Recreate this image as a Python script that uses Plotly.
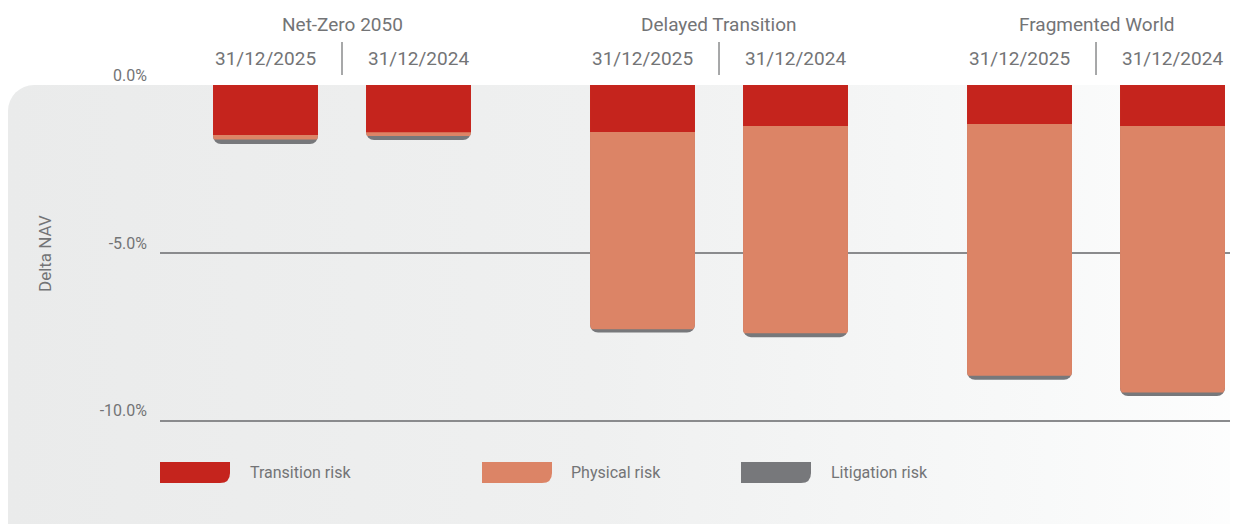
import base64
import plotly.graph_objects as go

# ---------------- data ----------------
scenarios = ["Net-Zero 2050", "Delayed Transition", "Fragmented World"]
dates = ["31/12/2025", "31/12/2024"]
series_names = ["Transition risk", "Physical risk", "Litigation risk"]
# values in % of NAV (negative), order: NZ 2025, NZ 2024, DT 2025, DT 2024, FW 2025, FW 2024
transition = [-1.49, -1.41, -1.40, -1.22, -1.16, -1.22]
physical = [-0.13, -0.11, -5.87, -6.17, -7.50, -7.94]
litigation = [-0.14, -0.12, -0.10, -0.12, -0.12, -0.10]
y_ticks = [0, -5, -10]
y_ticklabels = ["0.0%", "-5.0%", "-10.0%"]

colors = {"Transition risk": "#c5241d", "Physical risk": "#dc8466", "Litigation risk": "#77787b"}
TXT = "#737476"
FONT = "Roboto, Liberation Sans, sans-serif"

# the page body adds an 8px offset; layout is expressed in window pixels
OFF = 8
W, H = 1230, 516
ML, MR, MT, MB = 152, 0, 77, 36
PW, PH = W - ML - MR, H - MT - MB

def px2x(px):
    return (px - OFF - ML) / PW

def py2y(py):
    return (H - MB - (py - OFF)) / PH

# bar positions: two dates per scenario, larger gap between scenarios
GROUP_STEP = 2.464
positions = []
labels = []
for gi, sc in enumerate(scenarios):
    for di, d in enumerate(dates):
        positions.append(gi * GROUP_STEP + di)
        labels.append(d)
group_centers = [gi * GROUP_STEP + 0.5 for gi in range(len(scenarios))]

# cumulative layers (drawn overlaid, deepest first)
cum_tp = [t + p for t, p in zip(transition, physical)]
cum_all = [t + p + l for t, p, l in zip(transition, physical, litigation)]

fig = go.Figure()
for name, yvals, seg in [("Litigation risk", cum_all, litigation),
                         ("Physical risk", cum_tp, physical),
                         ("Transition risk", transition, transition)]:
    fig.add_trace(go.Bar(
        x=positions, y=yvals, name=name, width=0.686,
        marker=dict(color=colors[name], line=dict(width=0), cornerradius=8),
        customdata=[[s, l] for s, l in zip(seg, labels)],
        hovertemplate="%{customdata[1]}<br>" + name + ": %{customdata[0]:.2f}%<extra></extra>",
        showlegend=False,
    ))

# background gradient (rounded top-left) via inline SVG
svg = ('<svg xmlns="http://www.w3.org/2000/svg" width="1240" height="450" viewBox="0 0 1240 450" preserveAspectRatio="none">'
       '<defs><linearGradient id="g" x1="0" y1="0" x2="1" y2="0">'
       '<stop offset="0" stop-color="#eaebeb"/><stop offset="0.45" stop-color="#eff0f0"/>'
       '<stop offset="0.8" stop-color="#f8f9f9"/><stop offset="1" stop-color="#ffffff"/></linearGradient></defs>'
       '<rect x="0" y="0" width="1300" height="500" rx="26" ry="26" fill="url(#g)"/></svg>')
src = "data:image/svg+xml;base64," + base64.b64encode(svg.encode()).decode()
fig.add_layout_image(dict(source=src, xref="paper", yref="paper",
                          x=px2x(8), y=py2y(85), sizex=px2x(1248) - px2x(8), sizey=py2y(85) - py2y(535),
                          xanchor="left", yanchor="top", sizing="stretch", layer="below"))

annotations = []
shapes = []
for sc, gc in zip(scenarios, group_centers):
    annotations.append(dict(x=gc, xref="x", y=py2y(25), yref="paper", text=sc, showarrow=False,
                            font=dict(family=FONT, size=19, color=TXT),
                            xanchor="center", yanchor="middle"))
    shapes.append(dict(type="line", xref="x", yref="paper", x0=gc, x1=gc, y0=py2y(75), y1=py2y(42),
                       line=dict(color="#8a8b8d", width=1.5)))

# y-axis title
annotations.append(dict(x=px2x(45), xref="paper", y=py2y(254), yref="paper", text="Delta NAV", textangle=-90,
                        showarrow=False, font=dict(family=FONT, size=17, color=TXT),
                        xanchor="center", yanchor="middle"))

# custom legend
legend_items = [("Transition risk", 160, 248), ("Physical risk", 482, 569), ("Litigation risk", 741, 829)]
for name, sx, tx in legend_items:
    x0, x1 = px2x(sx), px2x(sx + 70)
    y0, y1 = py2y(462), py2y(483)
    rx, ry = 10 / PW, 10 / PH
    path = (f"M {x0},{y0} L {x1},{y0} L {x1},{y1 + ry} Q {x1},{y1} {x1 - rx},{y1} "
            f"L {x0},{y1} Z")
    shapes.append(dict(type="path", xref="paper", yref="paper", path=path,
                       fillcolor=colors[name], line=dict(width=0)))
    annotations.append(dict(x=px2x(tx), xref="paper", y=py2y(472), yref="paper", text=name, showarrow=False,
                            font=dict(family=FONT, size=16, color=TXT),
                            xanchor="left", yanchor="middle"))

fig.update_layout(
    width=W, height=H,
    margin=dict(l=ML, r=MR, t=MT, b=MB),
    barmode="overlay",
    paper_bgcolor="white", plot_bgcolor="rgba(0,0,0,0)",
    font=dict(family=FONT, color=TXT),
    xaxis=dict(range=[-0.6895, 6.356], side="top", tickmode="array", tickvals=positions, ticktext=labels,
               tickfont=dict(family=FONT, size=19, color=TXT), showgrid=False, zeroline=False,
               showline=False, ticks="", ticklabelstandoff=15, fixedrange=True),
    yaxis=dict(range=[-12, 0], tickmode="array", tickvals=y_ticks, ticktext=y_ticklabels,
               tickfont=dict(family=FONT, size=16, color=TXT), showgrid=True, gridcolor="#8a8b8d",
               gridwidth=1.5, zeroline=False, showline=False, ticks="", ticklabelstandoff=12,
               ticklabelshift=-10, fixedrange=True),
    annotations=annotations, shapes=shapes,
    showlegend=False,
)

fig.write_html("out.html")
